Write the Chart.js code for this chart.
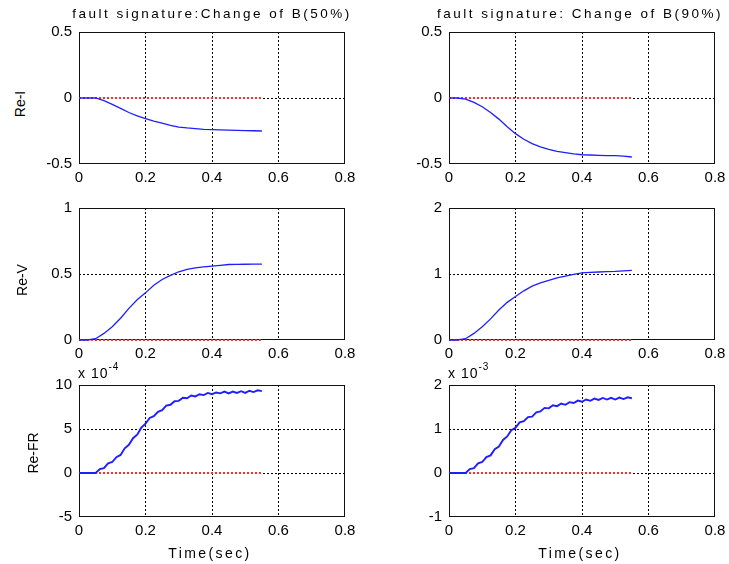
<!DOCTYPE html>
<html>
<head>
<meta charset="utf-8">
<script src="https://cdn.jsdelivr.net/npm/chart.js@4.4.0/dist/chart.umd.min.js"></script>
<style>
  body { margin: 0; background: #fff; width: 729px; height: 564px; position: relative; overflow: hidden;
         font-family: "Liberation Sans", Arial, sans-serif; }
  canvas { position: absolute; }
  .lbl { position: absolute; white-space: nowrap; color: #000; transform: translate(-50%, -50%); }
  .title { font-size: 13.5px; letter-spacing: 2.5px; }
  .ylab { font-size: 14px; transform: translate(-50%, -50%) rotate(-90deg); }
  .xlab { font-size: 14px; letter-spacing: 2.4px; }
  .expo { position: absolute; font-size: 14px; white-space: nowrap; letter-spacing: 1px; }
  .expo sup { font-size: 10px; position: relative; top: -2px; }
</style>
</head>
<body>
<script>
  // 時間軸 (sec)
  const time = [0, 0.025, 0.05, 0.075, 0.1, 0.125, 0.15, 0.175, 0.2, 0.225, 0.25, 0.275,
                0.3, 0.325, 0.35, 0.375, 0.4, 0.425, 0.45, 0.475, 0.5, 0.525, 0.55];
  const timeFR = [0, 0.0125, 0.025, 0.0375, 0.05, 0.0625, 0.075, 0.0875, 0.1, 0.1125, 0.125, 0.1375,
                  0.15, 0.1625, 0.175, 0.1875, 0.2, 0.2125, 0.225, 0.2375, 0.25, 0.2625, 0.275, 0.2875,
                  0.3, 0.3125, 0.325, 0.3375, 0.35, 0.3625, 0.375, 0.3875, 0.4, 0.4125, 0.425, 0.4375,
                  0.45, 0.4625, 0.475, 0.4875, 0.5, 0.5125, 0.525, 0.5375, 0.55];

  // Re-I
  const reI50 = [0, 0, 0, -0.02, -0.048, -0.078, -0.11, -0.136, -0.157, -0.175, -0.19, -0.207,
                 -0.22, -0.227, -0.232, -0.237, -0.24, -0.242, -0.243, -0.245, -0.247, -0.248, -0.25];
  const reI90 = [0, 0, -0.008, -0.033, -0.066, -0.11, -0.16, -0.217, -0.27, -0.313, -0.346, -0.37,
                 -0.39, -0.404, -0.414, -0.423, -0.43, -0.432, -0.434, -0.436, -0.437, -0.44, -0.447];
  // Re-V
  const reV50 = [0, 0, 0.01, 0.05, 0.1, 0.165, 0.24, 0.305, 0.357, 0.415, 0.458, 0.49,
                 0.517, 0.535, 0.547, 0.554, 0.56, 0.566, 0.572, 0.573, 0.574, 0.575, 0.575];
  const reV90 = [0, 0, 0.02, 0.1, 0.2, 0.32, 0.455, 0.57, 0.66, 0.745, 0.815, 0.865,
                 0.905, 0.94, 0.967, 0.995, 1.017, 1.024, 1.03, 1.035, 1.04, 1.048, 1.055];
  // Re-FR (x10^-4 / x10^-3)
  const reFR50 = [0, 0, 0, 0, 0, 0.45, 0.55, 1.1, 1.25, 1.8, 2.05, 2.8, 3.2, 3.95, 4.35, 5.15, 5.6,
                  6.25, 6.45, 6.95, 7.15, 7.65, 7.75, 8.15, 8.2, 8.55, 8.5, 8.8, 8.7, 8.95, 8.85, 9.1,
                  8.95, 9.15, 9.05, 9.25, 9.05, 9.25, 9.1, 9.3, 9.1, 9.35, 9.2, 9.4, 9.3];
  const reFR90 = [0, 0, 0, 0, 0, 0.09, 0.11, 0.22, 0.25, 0.36, 0.4, 0.54, 0.6, 0.75, 0.83, 0.97, 1.03,
                  1.15, 1.18, 1.27, 1.28, 1.38, 1.4, 1.48, 1.47, 1.54, 1.52, 1.58, 1.55, 1.61, 1.59,
                  1.645, 1.62, 1.67, 1.64, 1.69, 1.66, 1.705, 1.67, 1.71, 1.67, 1.715, 1.68, 1.72, 1.7];

  // 目盛り
  const xTicks = [0, 0.2, 0.4, 0.6, 0.8];
  const yTicksI = [-0.5, 0, 0.5];
  const yTicksV50 = [0, 0.5, 1];
  const yTicksV90 = [0, 1, 2];
  const yTicksFR50 = [-5, 0, 5, 10];
  const yTicksFR90 = [-1, 0, 1, 2];

  const titles = ['fault signature:Change of B(50%)', 'fault signature: Change of B(90%)'];
  const yLabels = ['Re-I', 'Re-V', 'Re-FR'];
  const exponents = ['-4', '-3'];

  // レイアウト
  const colLeft = [79, 449];
  const rowTop = [32, 208, 385];
  const plotW = 266, plotH = 132;
  const padL = 48, padT = 20, padR = 24, padB = 30;
  const FONT = '"Liberation Sans", Arial, sans-serif';

  const panels = [
    { row: 0, col: 0, x: time, y: reI50, ticks: yTicksI },
    { row: 0, col: 1, x: time, y: reI90, ticks: yTicksI },
    { row: 1, col: 0, x: time, y: reV50, ticks: yTicksV50 },
    { row: 1, col: 1, x: time, y: reV90, ticks: yTicksV90 },
    { row: 2, col: 0, x: timeFR, y: reFR50, ticks: yTicksFR50, lw: 1.9 },
    { row: 2, col: 1, x: timeFR, y: reFR90, ticks: yTicksFR90, lw: 1.9 }
  ];

  //枠線を描くプラグイン
  const framePlugin = {
    id: 'frame',
    beforeDatasetsDraw(chart) {
      const { ctx, chartArea: a } = chart;
      ctx.save();
      ctx.strokeStyle = '#111';
      ctx.lineWidth = 1;
      ctx.strokeRect(a.left + 0.5, a.top + 0.5, a.right - a.left - 1, a.bottom - a.top - 1);
      ctx.restore();
    }
  };

  const gridColor = (ticks) => (ctx) => {
    const v = ctx.tick ? ctx.tick.value : null;
    return (v === ticks[0] || v === ticks[ticks.length - 1]) ? 'rgba(0,0,0,0)' : '#000';
  };

  const addLabel = (text, cls, x, y) => {
    const d = document.createElement('div');
    d.className = 'lbl ' + cls;
    d.textContent = text;
    d.style.left = x + 'px';
    d.style.top = y + 'px';
    document.body.appendChild(d);
  };

  panels.forEach((p) => {
    const canvas = document.createElement('canvas');
    const w = plotW + padL + padR, h = plotH + padT + padB;
    canvas.width = w;
    canvas.height = h;
    canvas.style.left = (colLeft[p.col] - padL) + 'px';
    canvas.style.top = (rowTop[p.row] - padT) + 'px';
    canvas.style.width = w + 'px';
    canvas.style.height = h + 'px';
    document.body.appendChild(canvas);

    new Chart(canvas, {
      type: 'line',
      data: {
        datasets: [
          {
            data: p.x.map((t, i) => ({ x: t, y: p.y[i] })),
            borderColor: 'rgb(30,30,255)',
            borderWidth: p.lw || 1.3,
            pointRadius: 0,
            tension: 0,
            clip: false
          },
          {
            // 基準線 (0)
            data: p.x.map((t) => ({ x: t, y: 0 })),
            borderColor: 'rgb(255,45,45)',
            borderWidth: 2,
            borderDash: [2, 2],
            pointRadius: 0,
            tension: 0,
            clip: false
          }
        ]
      },
      options: {
        responsive: false,
        animation: false,
        devicePixelRatio: 1,
        layout: { padding: { top: padT, right: padR, left: 0, bottom: 0 } },
        plugins: { legend: { display: false }, tooltip: { enabled: false } },
        scales: {
          x: {
            type: 'linear', min: 0, max: 0.8,
            afterBuildTicks: (s) => { s.ticks = xTicks.map((v) => ({ value: v })); },
            afterFit: (s) => { s.height = padB; },
            grid: { color: gridColor(xTicks), lineWidth: 1, drawTicks: false },
            border: { display: false, dash: [2, 2] },
            ticks: { color: '#000', font: { family: FONT, size: 15 }, padding: 5,
                     maxRotation: 0, autoSkip: false, callback: (v) => String(v) }
          },
          y: {
            type: 'linear', min: p.ticks[0], max: p.ticks[p.ticks.length - 1],
            afterBuildTicks: (s) => { s.ticks = p.ticks.map((v) => ({ value: v })); },
            afterFit: (s) => { s.width = padL; },
            grid: { color: gridColor(p.ticks), lineWidth: 1, drawTicks: false },
            border: { display: false, dash: [2, 2] },
            ticks: { color: '#000', font: { family: FONT, size: 15 }, padding: 7,
                     autoSkip: false, callback: (v) => String(v) }
          }
        }
      },
      plugins: [framePlugin]
    });
  });

  // タイトル・軸ラベル
  addLabel(titles[0], 'title', 212, 13);
  addLabel(titles[1], 'title', 580, 13);
  addLabel(yLabels[0], 'ylab', 20, 104);
  addLabel(yLabels[1], 'ylab', 22, 280);
  addLabel(yLabels[2], 'ylab', 33, 453);
  addLabel('Time(sec)', 'xlab', 210, 553);
  addLabel('Time(sec)', 'xlab', 580, 553);

  [0, 1].forEach((c) => {
    const e = document.createElement('div');
    e.className = 'expo';
    e.innerHTML = 'x 10<sup>' + exponents[c] + '</sup>';
    e.style.left = (colLeft[c] - 1) + 'px';
    e.style.top = '363px';
    document.body.appendChild(e);
  });
</script>
</body>
</html>
